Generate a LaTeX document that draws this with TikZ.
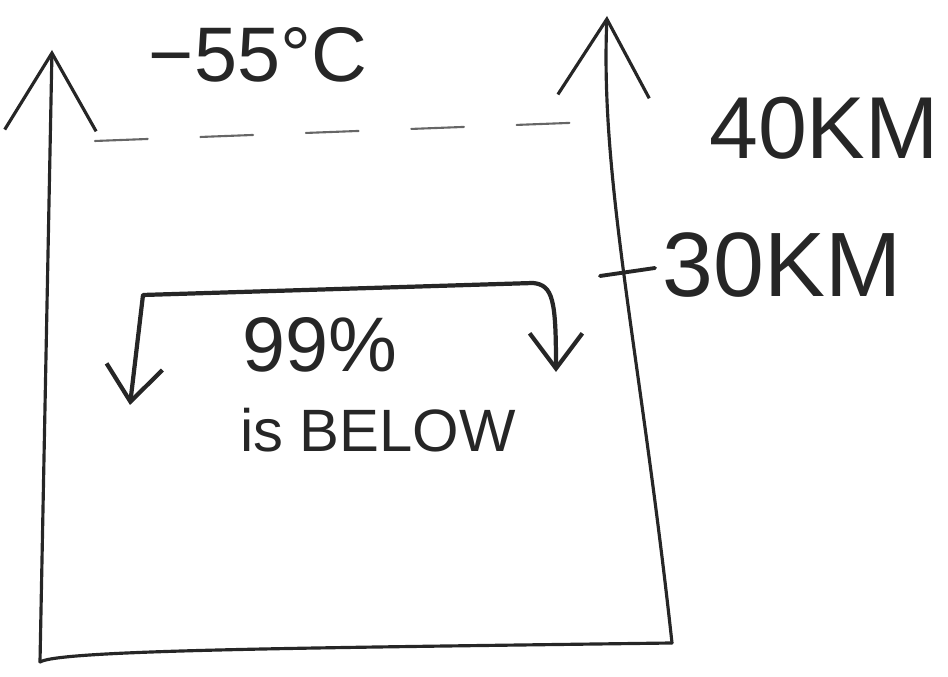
\documentclass[tikz,border=0pt]{standalone}
\usepackage{fontspec}
\setmainfont{Liberation Sans}
\usetikzlibrary{arrows.meta, positioning}

\begin{document}
\begin{tikzpicture}[x=0.01cm, y=-0.01cm,
  pen/.style={line width=0.9pt, black!85, line cap=round, line join=round},
  bigtip/.style={-{Straight Barb[length=22pt, width=26pt]}},
  smalltip/.style={{Straight Barb[length=10pt, width=16pt]}-{Straight Barb[length=10pt, width=15pt]}},
  lbl/.style={inner sep=0pt, black!85}]
\useasboundingbox (0,0) rectangle (948,677);

% Axes and ground
\coordinate (lbot) at (40,662);
\coordinate (ltop) at (52,50);
\coordinate (rbot) at (672,643);
\coordinate (rtop) at (607,16);
\draw[pen, bigtip] (lbot) -- (ltop);
\draw[pen, bigtip] (rbot) .. controls (640,350) and (600,180) .. (rtop);
\draw[pen] (lbot) .. controls (60,650) and (300,648) .. (rbot);

% 40 km level
\coordinate (dashL) at (95,141);
\coordinate (dashR) at (620,121);
\draw[pen, line width=0.6pt, black!60, dash pattern=on 15pt off 15pt] (dashL) -- (dashR);
\node[lbl, font=\fontsize{25}{27}\selectfont] (alt40) at (824,128) {40KM};

% 30 km tick
\coordinate (tickL) at (600,276);
\coordinate (tickR) at (655,268);
\draw[pen, line width=1.1pt] (tickL) -- (tickR);
\node[lbl, font=\fontsize{26}{28}\selectfont] (alt30) at (782,265) {30KM};

% Top temperature
\node[lbl, font=\fontsize{22}{24}\selectfont] (temp) at (258,55) {−55°C};

% Bracket
\coordinate (brL) at (130,405);
\coordinate (brLc) at (143,295);
\coordinate (brRc) at (533,283);
\coordinate (brR) at (556,372);
\draw[pen, line width=1.2pt, smalltip] (brL) -- (brLc) -- (brRc) .. controls (553,285) and (556,300) .. (brR);
\node[lbl, font=\fontsize{22}{24}\selectfont] (pct) at (320,345) {99\%};
\node[lbl, font=\fontsize{17}{19}\selectfont] (below) at (378,430) {is BELOW};
\end{tikzpicture}
\end{document}
